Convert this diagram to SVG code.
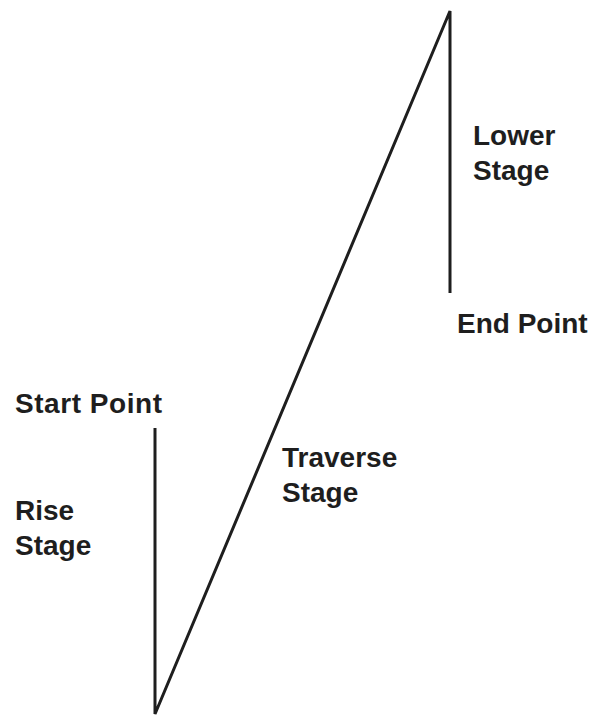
<svg xmlns="http://www.w3.org/2000/svg" width="593" height="719" viewBox="0 0 593 719">
<style>
.lbl{font-family:"Liberation Sans",Arial,sans-serif;font-weight:bold;font-size:28px;fill:#1e1e1e}
.ln{fill:none;stroke:#1e1e1e;stroke-width:3;stroke-linejoin:miter;stroke-linecap:butt}
</style>
<rect width="593" height="719" fill="#fff"/>
<g id="connectors">
<path class="ln" d="M155,428 L155,714 L450,11 L450,293"/>
</g>
<g id="start-point"><text class="lbl" x="15" y="413" textLength="147" lengthAdjust="spacing">Start Point</text></g>
<g id="rise-stage"><text class="lbl" x="15" y="520">Rise</text><text class="lbl" x="15" y="555">Stage</text></g>
<g id="traverse-stage"><text class="lbl" x="282" y="467">Traverse</text><text class="lbl" x="282" y="502">Stage</text></g>
<g id="lower-stage"><text class="lbl" x="473" y="145">Lower</text><text class="lbl" x="473" y="180">Stage</text></g>
<g id="end-point"><text class="lbl" x="457" y="333">End Point</text></g>
</svg>
